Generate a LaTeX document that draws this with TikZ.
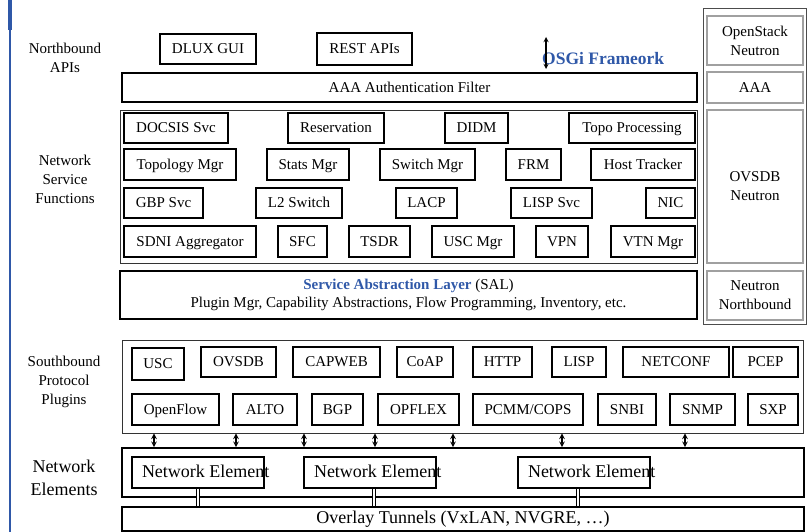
\documentclass[tikz,border=0pt]{standalone}
\usepackage{fontspec}
\setmainfont{Liberation Serif}
\usepackage{xcolor}
\usepackage{tikz}
\usetikzlibrary{shapes, arrows, positioning, calc}
\definecolor{odlblue}{HTML}{2F58A8}
\definecolor{nbgray}{HTML}{A0A0A0}

\begin{document}
\begin{tikzpicture}[
        x=1pt, y=-1pt,
        >=stealth,
        font=\fontsize{15}{19}\selectfont,
        mod/.style={rectangle, draw, line width=1.6pt, minimum height=30, inner sep=0, text height=12.3pt, text depth=2.5pt},
        panel/.style={rectangle, draw, line width=1.8pt, inner sep=0, align=center},
        group/.style={rectangle, draw=black!80, line width=0.9pt, inner sep=0},
        nbox/.style={rectangle, draw=nbgray, line width=2pt, minimum width=96, align=center, inner sep=0},
        layer/.style={align=center},
        nelem/.style={rectangle, draw, line width=1.6pt, minimum height=31, inner xsep=10, inner ysep=0, text height=12.3pt, text depth=3.3pt, font=\fontsize{18}{20}\selectfont},
        sbi/.style={<->, line width=1.5pt},
        tunnel/.style={double, line width=0.8pt, double distance=1.8pt}
    ]
    \useasboundingbox (0,0) rectangle (808,532);

    % --- Side bar ---
    \fill[odlblue] (8,0) rectangle (12,30);
    \draw[odlblue, line width=2pt] (10,0) -- (10,532);

    % --- Layer captions ---
    \node (capnb) [layer] at (65,58) {Northbound\\APIs};
    \node (capnsf) [layer] at (65,179) {Network\\Service\\Functions};
    \node (capsb) [layer] at (64,382) {Southbound\\Protocol\\Plugins};
    \node (capne) [layer, font=\fontsize{18}{23}\selectfont] at (64,478) {Network\\Elements};

    % --- Northbound APIs ---
    \node (dlux) [mod, minimum width=96] at (208,49) {DLUX GUI};
    \node (rest) [mod, minimum width=95, minimum height=32] at (364.5,49) {REST APIs};
    \node (osgi) [anchor=west, inner sep=0, text=odlblue, font=\bfseries\fontsize{17.5}{20}\selectfont] at (542,59) {OSGi Frameork};
    \coordinate (osgitop) at (546,37);
    \coordinate (osgibot) at (546,69);
    \draw[<->, line width=1.3pt] (osgitop) -- (osgibot);
    \node (aaa) [panel, minimum width=575, minimum height=29] at (409.5,87.5) {AAA Authentication Filter};

    % --- Network Service Functions ---
    \node (nsf) [group, minimum width=577, minimum height=153] at (408.5,186.5) {};
    \node (docsis) [mod, minimum width=104] at (176,128) {DOCSIS Svc};
    \node (resv) [mod, minimum width=96] at (336,128) {Reservation};
    \node (didm) [mod, minimum width=63] at (476.5,128) {DIDM};
    \node (topo) [mod, minimum width=126] at (632,128) {Topo Processing};

    \node (topomgr) [mod, minimum width=112, minimum height=31] at (180,164.5) {Topology Mgr};
    \node (stats) [mod, minimum width=82, minimum height=31] at (308,164.5) {Stats Mgr};
    \node (switch) [mod, minimum width=95, minimum height=31] at (427.5,164.5) {Switch Mgr};
    \node (frm) [mod, minimum width=55, minimum height=31] at (533.5,164.5) {FRM};
    \node (host) [mod, minimum width=104, minimum height=31] at (643,164.5) {Host Tracker};

    \node (gbp) [mod, minimum width=79] at (163.5,203) {GBP Svc};
    \node (ltwo) [mod, minimum width=86] at (299,203) {L2 Switch};
    \node (lacp) [mod, minimum width=61] at (426.5,203) {LACP};
    \node (lispsvc) [mod, minimum width=81] at (551.5,203) {LISP Svc};
    \node (nic) [mod, minimum width=49] at (670.5,203) {NIC};

    \node (sdni) [mod, minimum width=132, minimum height=31] at (190,241.5) {SDNI Aggregator};
    \node (sfc) [mod, minimum width=49, minimum height=31] at (302.5,241.5) {SFC};
    \node (tsdr) [mod, minimum width=61, minimum height=31] at (379.5,241.5) {TSDR};
    \node (uscmgr) [mod, minimum width=82, minimum height=31] at (473,241.5) {USC Mgr};
    \node (vpn) [mod, minimum width=52, minimum height=31] at (562,241.5) {VPN};
    \node (vtn) [mod, minimum width=84, minimum height=31] at (653,241.5) {VTN Mgr};

    % --- SAL ---
    \node (sal) [panel, minimum width=577, minimum height=48, font=\fontsize{15}{18}\selectfont] at (408.5,295)
        {{\color{odlblue}\bfseries Service Abstraction Layer} (SAL)\\Plugin Mgr, Capability Abstractions, Flow Programming, Inventory, etc.};

    % --- Neutron column ---
    \node (ncol) [rectangle, draw=black!70, line width=0.8pt, minimum width=103, minimum height=316] at (754.5,166) {};
    \node (openstack) [nbox, minimum height=49] at (755,40.5) {OpenStack\\Neutron};
    \node (aaan) [nbox, minimum height=31] at (755,87.5) {AAA};
    \node (ovsdbn) [nbox, minimum height=153] at (755,186.5) {OVSDB\\Neutron};
    \node (nnb) [nbox, minimum height=49] at (755,295.5) {Neutron\\Northbound};

    % --- Southbound Protocol Plugins ---
    \node (sb) [group, minimum width=681, minimum height=93] at (462.5,386.5) {};
    \node (usc) [mod, minimum width=52, minimum height=32] at (158,364) {USC};
    \node (ovsdb) [mod, minimum width=75] at (238.5,362) {OVSDB};
    \node (capweb) [mod, minimum width=87] at (336.5,362) {CAPWEB};
    \node (coap) [mod, minimum width=56] at (425,362) {CoAP};
    \node (http) [mod, minimum width=59] at (502.5,362) {HTTP};
    \node (lisp) [mod, minimum width=54] at (579,362) {LISP};
    \node (netconf) [mod, minimum width=106] at (676,362) {NETCONF};
    \node (pcep) [mod, minimum width=65] at (765.5,362) {PCEP};

    \node (openflow) [mod, minimum width=87, minimum height=31] at (175.5,409.5) {OpenFlow};
    \node (alto) [mod, minimum width=64, minimum height=31] at (265,409.5) {ALTO};
    \node (bgp) [mod, minimum width=51, minimum height=31] at (337.5,409.5) {BGP};
    \node (opflex) [mod, minimum width=81, minimum height=31] at (418.5,409.5) {OPFLEX};
    \node (pcmm) [mod, minimum width=110, minimum height=31] at (528,409.5) {PCMM/COPS};
    \node (snbi) [mod, minimum width=58, minimum height=31] at (627,409.5) {SNBI};
    \node (snmp) [mod, minimum width=65, minimum height=31] at (702.5,409.5) {SNMP};
    \node (sxp) [mod, minimum width=50, minimum height=31] at (773,409.5) {SXP};

    % --- Network Elements ---
    \node (ne) [panel, minimum width=682, minimum height=49] at (463,472.5) {};
    \node (neone) [nelem] at (198,472.5) {\makebox[112pt][l]{Network Element}};
    \node (netwo) [nelem] at (370,472.5) {\makebox[112pt][l]{Network Element}};
    \node (nethree) [nelem] at (584,472.5) {\makebox[112pt][l]{Network Element}};

    \foreach \x in {154,236,304,375,453,562,685}
        \draw[sbi] (\x,0 |- sb.south) -- (\x,0 |- ne.north);

    % --- Overlay ---
    \node (overlay) [panel, minimum width=682, minimum height=24, font=\fontsize{18}{20}\selectfont] at (463,519) {Overlay Tunnels (VxLAN, NVGRE, …)};

    \draw[tunnel] (neone.south) -- (neone.south |- overlay.north);
    \draw[tunnel] ([xshift=4pt]netwo.south) -- ([xshift=4pt]netwo.south |- overlay.north);
    \draw[tunnel] ([xshift=-6pt]nethree.south) -- ([xshift=-6pt]nethree.south |- overlay.north);

\end{tikzpicture}
\end{document}
